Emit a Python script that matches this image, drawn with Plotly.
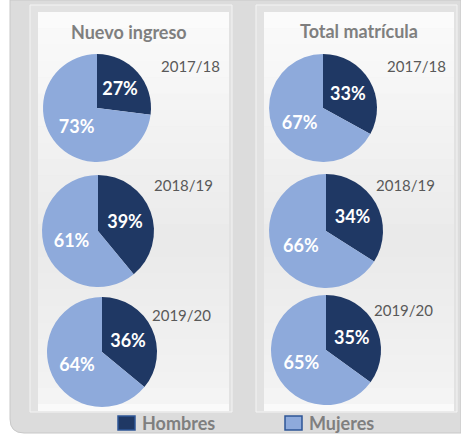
import plotly.graph_objects as go

# ---- data ----
groups = ["Nuevo ingreso", "Total matrícula"]
years = ["2017/18", "2018/19", "2019/20"]
labels = ["Hombres", "Mujeres"]
hombres_nuevo = [27, 39, 36]
mujeres_nuevo = [73, 61, 64]
hombres_total = [33, 34, 35]
mujeres_total = [67, 66, 65]
colors = ["#1f3864", "#8eaadb"]

W, H = 461, 435
FONT = "Lato"

def fx(x):
    return x / W

def fy(y):
    return 1 - y / H

fig = go.Figure()

# pie layout (pixel centres / radii)
centres = [
    [(97, 108, 54), (98, 231, 56), (102, 352, 55)],
    [(323, 108, 54), (326, 231, 57), (326, 350, 55)],
]
values = [
    list(zip(hombres_nuevo, mujeres_nuevo)),
    list(zip(hombres_total, mujeres_total)),
]

for g in range(2):
    for i in range(3):
        cx, cy, r = centres[g][i]
        h, m = values[g][i]
        fig.add_trace(go.Pie(
            labels=labels,
            values=[h, m],
            sort=False,
            direction="clockwise",
            rotation=0,
            marker=dict(colors=colors, line=dict(width=0)),
            texttemplate="%{value}%",
            textposition="inside",
            insidetextorientation="horizontal",
            textfont=dict(family=FONT, size=18, color="white", weight="bold"),
            hoverinfo="label+percent",
            domain=dict(x=[fx(cx - r), fx(cx + r)], y=[fy(cy + r), fy(cy - r)]),
            showlegend=False,
        ))

shapes = []
# outer gray background with rounded bottom-left corner
shapes.append(dict(
    type="path", xref="paper", yref="paper",
    path=f"M {fx(10)} {fy(0)} L {fx(461)} {fy(0)} L {fx(461)} {fy(433)} L {fx(24)} {fy(433)} "
         f"Q {fx(10)} {fy(433)} {fx(10)} {fy(419)} Z",
    fillcolor="#dcdcdc", line=dict(color="#c8c8c8", width=1), layer="below"))

# panels
for (x0, x1) in [(30, 232), (256, 457)]:
    y0, y1 = 5, 412
    shapes.append(dict(type="rect", xref="paper", yref="paper",
                       x0=fx(x0), x1=fx(x1), y0=fy(y1), y1=fy(y0),
                       fillcolor="#e2e2e2", line=dict(color="#f4f4f4", width=1), layer="below"))
    # gradient interior via bands
    top, bot = 12, 404
    n = 24
    c_top = (251, 251, 251)
    c_mid = (234, 234, 234)
    c_bot = (244, 244, 244)
    for k in range(n):
        t = k / (n - 1)
        if t < 0.6:
            u = t / 0.6
            c = tuple(int(c_top[j] + (c_mid[j] - c_top[j]) * u) for j in range(3))
        else:
            u = (t - 0.6) / 0.4
            c = tuple(int(c_mid[j] + (c_bot[j] - c_mid[j]) * u) for j in range(3))
        ya = top + (bot - top) * k / n
        yb = top + (bot - top) * (k + 1) / n
        shapes.append(dict(type="rect", xref="paper", yref="paper",
                           x0=fx(x0 + 8), x1=fx(x1 - 3), y0=fy(yb + 0.5), y1=fy(ya),
                           fillcolor="rgb(%d,%d,%d)" % c, line=dict(width=0), layer="below"))
    # bottom light bevel
    shapes.append(dict(type="rect", xref="paper", yref="paper",
                       x0=fx(x0 + 8), x1=fx(x1 - 3), y0=fy(y1 - 1), y1=fy(404),
                       fillcolor="#fafafa", line=dict(width=0), layer="below"))

annotations = []
title_pos = [(129, 32), (359, 31)]
for g in range(2):
    annotations.append(dict(
        text=groups[g], x=fx(title_pos[g][0]), y=fy(title_pos[g][1]),
        xref="paper", yref="paper", showarrow=False, xanchor="center", yanchor="middle",
        font=dict(family=FONT, size=18, color="#7f7f7f", weight="bold")))

year_pos = [
    [(190, 66), (183, 185), (181, 315)],
    [(416, 66), (405, 185), (403, 310)],
]
for g in range(2):
    for i in range(3):
        x, y = year_pos[g][i]
        annotations.append(dict(
            text=years[i], x=fx(x), y=fy(y), xref="paper", yref="paper",
            showarrow=False, xanchor="center", yanchor="middle",
            font=dict(family=FONT, size=15, color="#595959")))

# legend (manual)
leg_x = [118, 285]
for k in range(2):
    x0 = leg_x[k]
    shapes.append(dict(type="rect", xref="paper", yref="paper",
                       x0=fx(x0), x1=fx(x0 + 17), y0=fy(430), y1=fy(416),
                       fillcolor=colors[k], line=dict(color="#2e5597", width=1.5)))
    annotations.append(dict(
        text=labels[k], x=fx(x0 + 22), y=fy(423), xref="paper", yref="paper",
        showarrow=False, xanchor="left", yanchor="middle",
        font=dict(family=FONT, size=18, color="#7f7f7f", weight="bold")))

fig.update_layout(
    width=W, height=H,
    margin=dict(l=0, r=0, t=0, b=0),
    paper_bgcolor="white",
    plot_bgcolor="white",
    shapes=shapes,
    annotations=annotations,
    showlegend=False,
)

fig.write_html("out.html", config={"displayModeBar": False},
               post_script="document.body.style.margin='0';")
